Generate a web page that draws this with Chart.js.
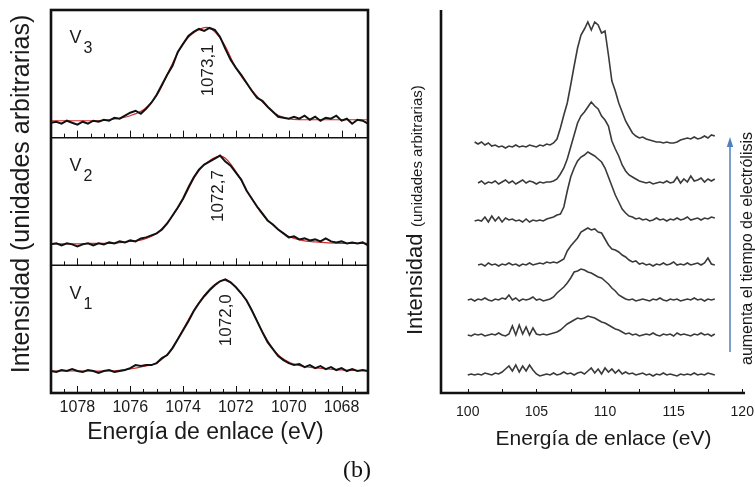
<!DOCTYPE html>
<html>
<head>
<meta charset="utf-8">
<script src="https://cdn.jsdelivr.net/npm/chart.js@4.4.1/dist/chart.umd.min.js"></script>
<style>
  body { margin: 0; background: #fff; width: 755px; height: 487px; overflow: hidden; position: relative; }
  canvas { position: absolute; top: 0; }
  #leftChart { left: 0; }
  #rightChart { left: 385px; }
  #tag { position: absolute; left: 343px; top: 457px; font: 24px "Liberation Serif", "Times New Roman", serif; line-height: 1; color: #111; }
</style>
</head>
<body>
<canvas id="leftChart" width="385" height="460"></canvas>
<canvas id="rightChart" width="370" height="460"></canvas>
<div id="tag">(b)</div>
<script>
// ---------- left panel: V1..V3 spectra (binding energy, eV) ----------
const LEFT_E = [
  1079.0, 1078.8, 1078.6, 1078.4, 1078.2, 1078.0, 1077.8, 1077.6, 1077.4, 1077.2,
  1077.0, 1076.8, 1076.6, 1076.4, 1076.2, 1076.0, 1075.8, 1075.6, 1075.4, 1075.2,
  1075.0, 1074.8, 1074.6, 1074.4, 1074.2, 1074.0, 1073.8, 1073.6, 1073.4, 1073.2,
  1073.0, 1072.8, 1072.6, 1072.4, 1072.2, 1072.0, 1071.8, 1071.6, 1071.4, 1071.2,
  1071.0, 1070.8, 1070.6, 1070.4, 1070.2, 1070.0, 1069.8, 1069.6, 1069.4, 1069.2,
  1069.0, 1068.8, 1068.6, 1068.4, 1068.2, 1068.0, 1067.8, 1067.6, 1067.4, 1067.2,
  1067.0
];
const V3_DATA = [
  15, 16, 14, 17, 15, 13, 16, 14, 17, 16,
  18, 17, 20, 19, 22, 25, 27, 24, 29, 35,
  43, 53, 63, 72, 86, 94, 102, 106, 109, 107,
  110, 108, 101, 89, 78, 70, 63, 55, 47, 40,
  37, 31, 26, 21, 20, 19, 21, 19, 22, 18,
  21, 17, 20, 19, 22, 17, 19, 14, 18, 17,
  14
];
const V2_DATA = [
  21, 22, 20, 22, 21, 19, 21, 22, 20, 22,
  21, 23, 22, 24, 23, 25, 24, 27, 28, 30,
  32, 36, 42, 50, 58, 67, 78, 88, 96, 101,
  104, 107, 110, 104, 100, 93, 86, 75, 67, 59,
  52, 45, 41, 36, 32, 28, 29, 26, 27, 25,
  26, 24, 27, 24, 23, 24, 22, 23, 22, 23,
  20
];
const V1_DATA = [
  22, 21, 23, 22, 24, 22, 21, 23, 22, 20,
  22, 23, 21, 22, 23, 25, 28, 27, 28, 28,
  30, 35, 38, 45, 54, 63, 72, 82, 90, 97,
  103, 108, 112, 114, 111, 106, 100, 93, 83, 72,
  61, 51, 44, 37, 33, 30, 28, 29, 26, 28,
  25, 27, 24, 26, 23, 25, 22, 24, 22, 23,
  22
];
// fitted curves (red)
const FIT_E = [1079, 1078.5, 1078, 1077.5, 1077, 1076.5, 1076, 1075.5, 1075, 1074.5, 1074, 1073.5, 1073,
  1072.5, 1072, 1071.5, 1071, 1070.5, 1070, 1069.5, 1069, 1068.5, 1068, 1067.5, 1067];
const V3_FIT = [17, 17, 17, 17, 17.5, 19, 22, 28, 42, 69, 94, 107, 110, 96, 70, 51, 36, 24, 19, 18, 18, 18, 18, 18, 18];
const V2_FIT = [21.5, 21.5, 21.5, 22, 22, 22.5, 24, 26, 32, 46, 66, 91, 105, 109, 94, 71, 51, 38, 29, 25, 23.5, 22.5, 22, 22, 22];
const V1_FIT = [22, 22, 22, 22, 22, 22.5, 24, 26.5, 30, 42, 64, 87, 104, 113, 106, 88, 62, 41, 31, 27, 25, 24, 23, 22.5, 22];

const PANEL_NAMES = ['3', '2', '1'];
const PANEL_PEAKS = ['1073,1', '1072,7', '1072,0'];
const PANEL_H = 128;
const PANEL_OFFSETS = [256, 128, 0];
const LEFT_TICKS = [1078, 1076, 1074, 1072, 1070, 1068];
const LEFT_MINOR = [1078.5, 1078, 1077.5, 1077, 1076.5, 1076, 1075.5, 1075, 1074.5, 1074, 1073.5, 1073,
  1072.5, 1072, 1071.5, 1071, 1070.5, 1070, 1069.5, 1069, 1068.5, 1068, 1067.5];

// ---------- right panel: spectra vs electrolysis time ----------
const RIGHT_E = [
  100, 100.25, 100.5, 100.75, 101, 101.25, 101.5, 101.75, 102, 102.25, 102.5, 102.75,
  103, 103.25, 103.5, 103.75, 104, 104.25, 104.5, 104.75, 105, 105.25, 105.5, 105.75,
  106, 106.25, 106.5, 106.75, 107, 107.25, 107.5, 107.75, 108, 108.25, 108.5, 108.75,
  109, 109.25, 109.5, 109.75, 110, 110.25, 110.5, 110.75, 111, 111.25, 111.5, 111.75,
  112, 112.25, 112.5, 112.75, 113, 113.25, 113.5, 113.75, 114, 114.25, 114.5, 114.75,
  115, 115.25, 115.5, 115.75, 116, 116.25, 116.5, 116.75, 117, 117.25, 117.5, 117.75,
  118
];
const T1 = [
  0, 1, 0, 1, 0, 2, 1, 0, 2, 1, 3, 6,
  9, 4, 10, 3, 9, 4, 10, 5, 1, -1, 0, 1,
  0, 2, 0, 1, 3, 1, 2, 0, 2, 3, 1, 4,
  7, 2, 6, 1, 7, 3, 6, 2, 5, 1, 3, 1,
  2, 0, 1, 2, 0, 1, -1, 1, 0, 2, 0, 1,
  0, -1, 1, 0, 1, 0, 2, 0, 1, 0, 2, 1,
  0
];
const T2 = [
  0, -1, 1, 0, 1, -1, 0, 1, 0, 2, 0, -1,
  1, 9, 0, 10, 1, 8, 0, 7, 1, 0, 1, 0,
  1, 2, 3, 5, 8, 11, 13, 15, 17, 16, 17, 19,
  18, 17, 15, 13, 12, 10, 8, 6, 5, 3, 1, 2,
  0, 1, -1, 0, 1, 0, 2, 0, -1, 1, 0, 1,
  -1, 2, 0, 1, 0, -1, 1, 0, 2, 0, 1, -1,
  1
];
const T3 = [
  0, 1, -1, 1, 0, 2, 0, -1, 1, 0, 2, 1,
  5, 0, 2, -1, 1, 0, 1, 3, 0, 1, -1, 0,
  1, 3, 7, 10, 13, 17, 22, 28, 29, 31, 30, 28,
  27, 25, 23, 22, 19, 16, 12, 9, 5, 3, 1, 0,
  1, -1, 0, 1, 0, -1, 1, 0, 2, 0, -1, 1,
  0, 1, -1, 0, 1, 0, 2, 0, 1, -1, 1, 0,
  1
];
const T4 = [
  null, null, null, 0, 1, -1, 2, 0, 1, -1, 1, 0,
  2, 0, 1, -1, 1, 0, 2, 0, 1, 2, 1, 3,
  2, 3, 2, 4, 6, 14, 19, 23, 27, 33, 35, 37,
  35, 36, 33, 32, 26, 20, 16, 15, 13, 10, 8, 5,
  3, 4, 1, 2, 0, 1, -1, 1, 0, 2, 0, 1,
  3, 0, 1, 0, 2, 0, 1, 2, 0, 2, 7, 1,
  0
];
const T5 = [
  null, null, 0, 1, 0, 4, -1, 5, 0, 4, -1, 3,
  1, 2, 0, 1, -1, 2, -1, 1, 0, 1, 0, 2,
  3, 4, 6, 7, 14, 30, 44, 53, 60, 64, 66, 69,
  67, 65, 62, 59, 53, 44, 35, 26, 19, 12, 8, 5,
  4, 2, 3, 1, 2, 0, 1, 3, 1, 2, 0, 2,
  1, 3, 1, 2, 4, 1, 2, 3, 1, 3, 2, 4,
  3
];
const T6 = [
  null, null, null, 0, 2, -1, 1, 0, 2, -1, 1, 3,
  0, 2, -1, 1, 3, 0, 2, 1, -1, 1, 0, 1,
  1, 2, 4, 9, 15, 24, 36, 48, 60, 67, 71, 76,
  81, 77, 74, 67, 63, 57, 42, 34, 27, 18, 12, 8,
  6, 4, 2, 1, 0, 1, -1, 0, 1, 0, 2, 0,
  1, 6, 0, 4, 1, 7, 2, 3, 5, 1, 4, 2,
  4
];
const T7 = [
  null, null, 1, -1, 1, -2, 0, -3, -2, -4, -3, -5,
  -3, -4, -2, -4, -3, -4, -2, -3, -4, -2, -3, -1,
  -2, 0, 4, 15, 28, 40, 58, 77, 95, 108, 114, 121,
  113, 121, 118, 110, 112, 88, 62, 52, 40, 31, 22, 16,
  10, 7, 5, 6, 4, 3, 2, 1, 1, 0, 1, 0,
  0, 1, 3, 4, 5, 4, 6, 4, 5, 7, 5, 8,
  7
];
const TRACES = [T1, T2, T3, T4, T5, T6, T7];
const TRACE_OFFSETS = [18, 58, 93, 128, 172, 210, 250];
const RIGHT_TICKS = [100, 105, 110, 115, 120];
const RIGHT_MINOR = [100, 102.5, 105, 107.5, 110, 112.5, 115, 117.5, 120];

const SANS = '"Liberation Sans", Arial, sans-serif';
const INK = '#1a1a1a';

function toPoints(xs, ys, offset) {
  return xs.map((x, i) => ({ x: x, y: ys[i] == null ? null : ys[i] + offset }));
}

function line(ctx, x1, y1, x2, y2) {
  ctx.beginPath();
  ctx.moveTo(x1, y1);
  ctx.lineTo(x2, y2);
  ctx.stroke();
}

function vText(ctx, text, x, y, font, align, baseline) {
  ctx.save();
  ctx.translate(x, y);
  ctx.rotate(-Math.PI / 2);
  ctx.font = font;
  ctx.textAlign = align;
  ctx.textBaseline = baseline;
  ctx.fillText(text, 0, 0);
  ctx.restore();
}

// fixed axis box, no room kept for overhanging end labels
function fixHeight(s) {
  s.height = 67;
  s.paddingLeft = 0;
  s.paddingRight = 0;
}

const leftDecor = {
  id: 'leftDecor',
  afterDraw(chart) {
    const { ctx, chartArea: a, scales: { x, y } } = chart;
    ctx.save();
    ctx.strokeStyle = '#111';
    ctx.lineWidth = 1.5;
    PANEL_OFFSETS.forEach(off => {
      if (off > 0) line(ctx, a.left, y.getPixelForValue(off), a.right, y.getPixelForValue(off));
    });
    ctx.lineWidth = 1;
    PANEL_OFFSETS.forEach(off => {
      const py = y.getPixelForValue(off);
      LEFT_MINOR.forEach(v => {
        const px = Math.round(x.getPixelForValue(v)) + 0.5;
        line(ctx, px, py, px, py - (LEFT_TICKS.includes(v) ? 7 : 4));
      });
    });
    ctx.lineWidth = 2.6;
    ctx.strokeRect(a.left, a.top, a.right - a.left, a.bottom - a.top);

    ctx.fillStyle = INK;
    PANEL_OFFSETS.forEach((off, i) => {
      const bx = x.getPixelForValue(1078.3);
      const by = y.getPixelForValue(off + 94.5);
      ctx.font = '18px ' + SANS;
      ctx.textAlign = 'left';
      ctx.textBaseline = 'alphabetic';
      ctx.fillText('V', bx, by);
      const w = ctx.measureText('V').width;
      ctx.font = '16px ' + SANS;
      ctx.fillText(PANEL_NAMES[i], bx + w + 2, by + 10);
    });
    const peakX = [1073.05, 1072.65, 1072.35];
    const peakY = [67.5, 69.5, 73];
    PANEL_OFFSETS.forEach((off, i) => {
      vText(ctx, PANEL_PEAKS[i], x.getPixelForValue(peakX[i]), y.getPixelForValue(off + peakY[i]),
        '17px ' + SANS, 'center', 'middle');
    });
    // axis titles
    vText(ctx, 'Intensidad (unidades arbitrarias)', 22.5, 194, '25px ' + SANS, 'center', 'middle');
    ctx.font = '23px ' + SANS;
    ctx.textAlign = 'center';
    ctx.textBaseline = 'middle';
    ctx.fillText('Energía de enlace (eV)', 205.5, 433);
    ctx.restore();
  }
};

const rightDecor = {
  id: 'rightDecor',
  afterDraw(chart) {
    const { ctx, chartArea: a, scales: { x } } = chart;
    ctx.save();
    ctx.strokeStyle = '#111';
    ctx.lineWidth = 1;
    RIGHT_MINOR.forEach(v => {
      const px = Math.round(x.getPixelForValue(v)) + 0.5;
      line(ctx, px, a.bottom, px, a.bottom - 4);
    });
    ctx.lineWidth = 2.6;
    ctx.beginPath();
    ctx.moveTo(a.left, a.top);
    ctx.lineTo(a.left, a.bottom);
    ctx.lineTo(a.right, a.bottom);
    ctx.stroke();

    // arrow: time of electrolysis increases
    ctx.strokeStyle = '#4f81bd';
    ctx.fillStyle = '#4f81bd';
    ctx.lineWidth = 1.5;
    line(ctx, 345, 352, 345, 144);
    ctx.beginPath();
    ctx.moveTo(345, 137);
    ctx.lineTo(341.8, 147);
    ctx.lineTo(348.2, 147);
    ctx.closePath();
    ctx.fill();

    ctx.fillStyle = INK;
    vText(ctx, 'aumenta el tiempo de electrólisis', 367, 365, '16px ' + SANS, 'left', 'alphabetic');
    vText(ctx, 'Intensidad', 37, 335, '22px ' + SANS, 'left', 'alphabetic');
    vText(ctx, '(unidades arbitrarias)', 37, 227, '15px ' + SANS, 'left', 'alphabetic');
    ctx.font = '21px ' + SANS;
    ctx.textAlign = 'center';
    ctx.textBaseline = 'middle';
    ctx.fillText('Energía de enlace (eV)', 218.5, 439);
    ctx.restore();
  }
};

const commonOptions = {
  responsive: false,
  animation: false,
  devicePixelRatio: 1,
  plugins: { legend: { display: false }, tooltip: { enabled: false } },
  elements: { point: { radius: 0 } }
};

new Chart(document.getElementById('leftChart'), {
  type: 'line',
  data: {
    datasets: [
      { data: toPoints(LEFT_E, V3_DATA, PANEL_OFFSETS[0]), borderColor: '#111', borderWidth: 2, tension: 0 },
      { data: toPoints(LEFT_E, V2_DATA, PANEL_OFFSETS[1]), borderColor: '#111', borderWidth: 2, tension: 0 },
      { data: toPoints(LEFT_E, V1_DATA, PANEL_OFFSETS[2]), borderColor: '#111', borderWidth: 2, tension: 0 },
      { data: toPoints(FIT_E, V3_FIT, PANEL_OFFSETS[0]), borderColor: '#d42a2a', borderWidth: 1.1, tension: 0.35 },
      { data: toPoints(FIT_E, V2_FIT, PANEL_OFFSETS[1]), borderColor: '#d42a2a', borderWidth: 1.1, tension: 0.35 },
      { data: toPoints(FIT_E, V1_FIT, PANEL_OFFSETS[2]), borderColor: '#d42a2a', borderWidth: 1.1, tension: 0.35 }
    ]
  },
  options: {
    ...commonOptions,
    layout: { padding: { top: 10, right: 17, left: 0, bottom: 0 } },
    scales: {
      x: {
        type: 'linear', reverse: true, min: 1067.0, max: 1079.0,
        afterBuildTicks: s => { s.ticks = LEFT_TICKS.map(v => ({ value: v })); },
        afterFit: fixHeight,
        grid: { display: false, drawTicks: false },
        border: { display: false },
        ticks: {
          color: INK, font: { size: 16, family: SANS }, padding: 5, maxRotation: 0, autoSkip: false,
          callback: v => String(v)
        }
      },
      y: {
        min: 0, max: PANEL_H * 3,
        afterFit: s => { s.width = 51; },
        grid: { display: false, drawTicks: false },
        border: { display: false },
        ticks: { display: false }
      }
    }
  },
  plugins: [leftDecor]
});

new Chart(document.getElementById('rightChart'), {
  type: 'line',
  data: {
    datasets: TRACES.map((t, i) => ({
      data: toPoints(RIGHT_E, t, TRACE_OFFSETS[i]),
      borderColor: '#3a3a3a', borderWidth: 1.6, tension: 0, spanGaps: false
    }))
  },
  options: {
    ...commonOptions,
    layout: { padding: { top: 10, right: 10, left: 0, bottom: 0 } },
    scales: {
      x: {
        type: 'linear', min: 98.05, max: 120.2,
        afterBuildTicks: s => { s.ticks = RIGHT_TICKS.map(v => ({ value: v })); },
        afterFit: fixHeight,
        grid: { display: false, drawTicks: false },
        border: { display: false },
        ticks: {
          color: INK, font: { size: 14, family: SANS }, padding: 11, maxRotation: 0, autoSkip: false,
          callback: v => String(v)
        }
      },
      y: {
        min: 0, max: 383,
        afterFit: s => { s.width = 56; },
        grid: { display: false, drawTicks: false },
        border: { display: false },
        ticks: { display: false }
      }
    }
  },
  plugins: [rightDecor]
});
</script>
</body>
</html>
